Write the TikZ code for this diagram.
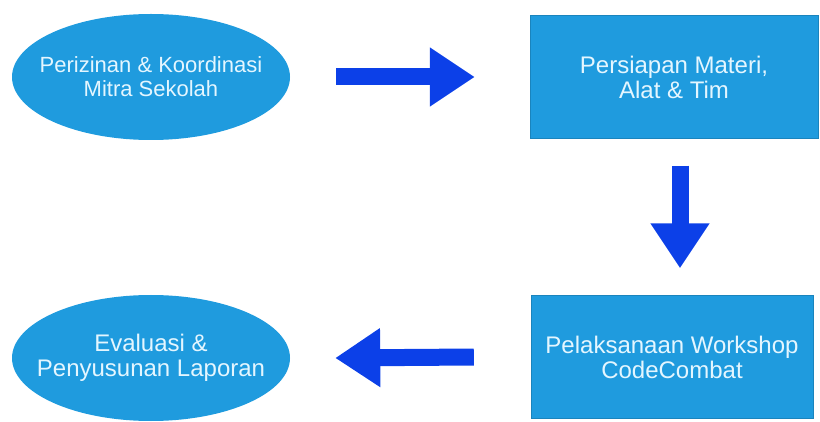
\documentclass[tikz,border=0pt]{standalone}
\usepackage{fontspec}
\setmainfont{Liberation Sans}
\usetikzlibrary{arrows.meta,shapes.geometric}
\definecolor{stepblue}{HTML}{1F9BDE}
\definecolor{arrowblue}{HTML}{0C40E8}
\definecolor{steptext}{HTML}{E4F6FF}

\begin{document}
\begin{tikzpicture}[x=1pt, y=-1pt,
  every node/.style={fill=stepblue, text=steptext, align=center,
    inner sep=0pt, font=\fontsize{24}{25}\selectfont},
  oval/.style={ellipse, minimum width=278pt, minimum height=126pt},
  ovaltext/.style={fill=none},
  box/.style={rectangle, draw=stepblue!85!black, minimum height=123pt},
  bigarrow/.style={arrowblue, line width=17pt,
    -{Triangle[width=56pt,length=45pt]}}]
  \useasboundingbox (0,0) rectangle (820,422);
  \node[oval] (s1) at (151,77) {};
  \node[ovaltext, font=\fontsize{22}{24}\selectfont] (t1) at (s1)
    {Perizinan \& Koordinasi\\Mitra Sekolah};
  \node[box, minimum width=288pt] (s2) at (674,77)
    {Persiapan Materi,\\Alat \& Tim};
  \node[box, minimum width=282pt] (s3) at (672,357)
    {Pelaksanaan Workshop\\CodeCombat};
  \node[oval] (s4) at (151,358) {};
  \node[ovaltext] (t4) at (s4) {Evaluasi \&\\Penyusunan Laporan};
  \draw[bigarrow] ([xshift=46pt]s1.east) -- ([xshift=-55pt]s2.west);
  \draw[bigarrow] ([xshift=6pt,yshift=-27pt]s2.south)
    -- ([xshift=8pt,yshift=27pt]s3.north);
  \draw[bigarrow] ([xshift=-57pt]s3.west) -- ([xshift=45pt]s4.east);
\end{tikzpicture}
\end{document}
